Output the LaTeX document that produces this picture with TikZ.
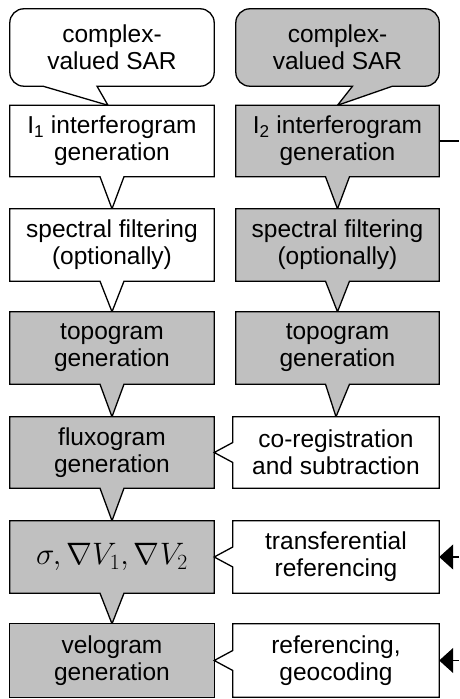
\RequirePackage{fix-cm}
\documentclass[tikz,border=0pt]{standalone}
\usepackage{fontspec}
\setmainfont{Liberation Sans}
\usetikzlibrary{calc,backgrounds,arrows.meta}
\definecolor{boxgray}{HTML}{C0C0C0}
\newcommand\downbox[3]{% node, fill, tip
  \filldraw[outl, fill=#2] (#1.north west) -- (#1.north east) -- (#1.south east)
    -- ($(#1.south)+(12,0)$) -- (#3) -- ($(#1.south)+(-12,0)$) -- (#1.south west) -- cycle;}
\newcommand\sidebox[3]{% node, fill, tip
  \filldraw[outl, fill=#2] (#1.north west) -- (#1.north east) -- (#1.south east)
    -- (#1.south west) -- ($(#1.west)+(0,-10)$) -- (#3) -- ($(#1.west)+(0,10)$) -- cycle;}
\begin{document}
\begin{tikzpicture}[x=1pt,y=1pt,
  lbl/.style={align=center, inner sep=0pt, font=\fontsize{24.5}{27}\selectfont,
    minimum width=#1},
  outl/.style={draw=black, line width=1.3pt, line join=miter},
  tipstyle/.style={-{Triangle[length=14pt,width=25pt]}}]
\useasboundingbox (0,0) rectangle (459,699);
% left column
\node[lbl=204pt, minimum height=77pt] (c1) at (112,651.5) {complex-\\valued SAR};
\node[lbl=204pt, minimum height=71pt] (i1) at (112,558) {I\textsubscript{1} interferogram\\generation};
\node[lbl=204pt, minimum height=72pt] (sf1) at (112,454) {spectral filtering\\(optionally)};
\node[lbl=204pt, minimum height=72pt] (tg1) at (112,351) {topogram\\generation};
\node[lbl=204pt, minimum height=71pt] (fx) at (112,246.5) {fluxogram\\generation};
\node[lbl=204pt, minimum height=72pt, font=\fontsize{31}{33}\selectfont] (sg) at (112,142) {$\sigma,\nabla V_1,\nabla V_2$};
\node[lbl=204pt, minimum height=73pt] (vg) at (112,38.5) {velogram\\generation};
% right column
\node[lbl=203pt, minimum height=77pt] (c2) at (337.5,651.5) {complex-\\valued SAR};
\node[lbl=203pt, minimum height=71pt] (i2) at (337.5,558) {I\textsubscript{2} interferogram\\generation};
\node[lbl=203pt, minimum height=72pt] (sf2) at (337.5,454) {spectral filtering\\(optionally)};
\node[lbl=203pt, minimum height=72pt] (tg2) at (337.5,351) {topogram\\generation};
\node[lbl=206pt, minimum height=71pt] (cr) at (336,246.5) {co-registration\\and subtraction};
\node[lbl=206pt, minimum height=72pt] (tr) at (336,142) {transferential\\referencing};
\node[lbl=206pt, minimum height=73pt] (rg) at (336,38.5) {referencing,\\geocoding};
% free ends at the right margin
\coordinate (e1) at (459,558);
\coordinate (e2) at (459,142);
\coordinate (e3) at (459,38.5);
\begin{scope}[on background layer]
  % callouts
  \filldraw[outl, fill=white] ($(c1.south)+(-15,0)$) -- ($(c1.south east)+(-14,0)$)
    arc[start angle=-90, end angle=0, radius=14] -- ($(c1.north east)+(0,-14)$)
    arc[start angle=0, end angle=90, radius=14] -- ($(c1.north west)+(14,0)$)
    arc[start angle=90, end angle=180, radius=14] -- ($(c1.south west)+(0,14)$)
    arc[start angle=180, end angle=270, radius=14] -- ($(c1.south)+(-69,0)$)
    -- ($(i1.north)+(-4,0)$) -- cycle;
  \filldraw[outl, fill=boxgray] ($(c2.south)+(55,0)$) -- ($(c2.south east)+(-14,0)$)
    arc[start angle=-90, end angle=0, radius=14] -- ($(c2.north east)+(0,-14)$)
    arc[start angle=0, end angle=90, radius=14] -- ($(c2.north west)+(14,0)$)
    arc[start angle=90, end angle=180, radius=14] -- ($(c2.south west)+(0,14)$)
    arc[start angle=180, end angle=270, radius=14] -- ($(c2.south)+(15,0)$)
    -- (i2.north) -- cycle;
  % left column boxes
  \downbox{i1}{white}{sf1.north}
  \downbox{sf1}{white}{tg1.north}
  \downbox{tg1}{boxgray}{fx.north}
  \downbox{fx}{boxgray}{sg.north}
  \downbox{sg}{boxgray}{vg.north}
  \filldraw[outl, fill=boxgray] (vg.north west) rectangle (vg.south east);
  % right column boxes
  \downbox{i2}{boxgray}{sf2.north}
  \downbox{sf2}{boxgray}{tg2.north}
  \downbox{tg2}{boxgray}{cr.north}
  \sidebox{cr}{white}{fx.east}
  \sidebox{tr}{white}{sg.east}
  \sidebox{rg}{white}{vg.east}
\end{scope}
% connectors to the right margin
\draw[outl] (i2.east) -- (e1);
\draw[outl, tipstyle] (e2) -- (tr.east);
\draw[outl, tipstyle] (e3) -- (rg.east);
\end{tikzpicture}
\end{document}
